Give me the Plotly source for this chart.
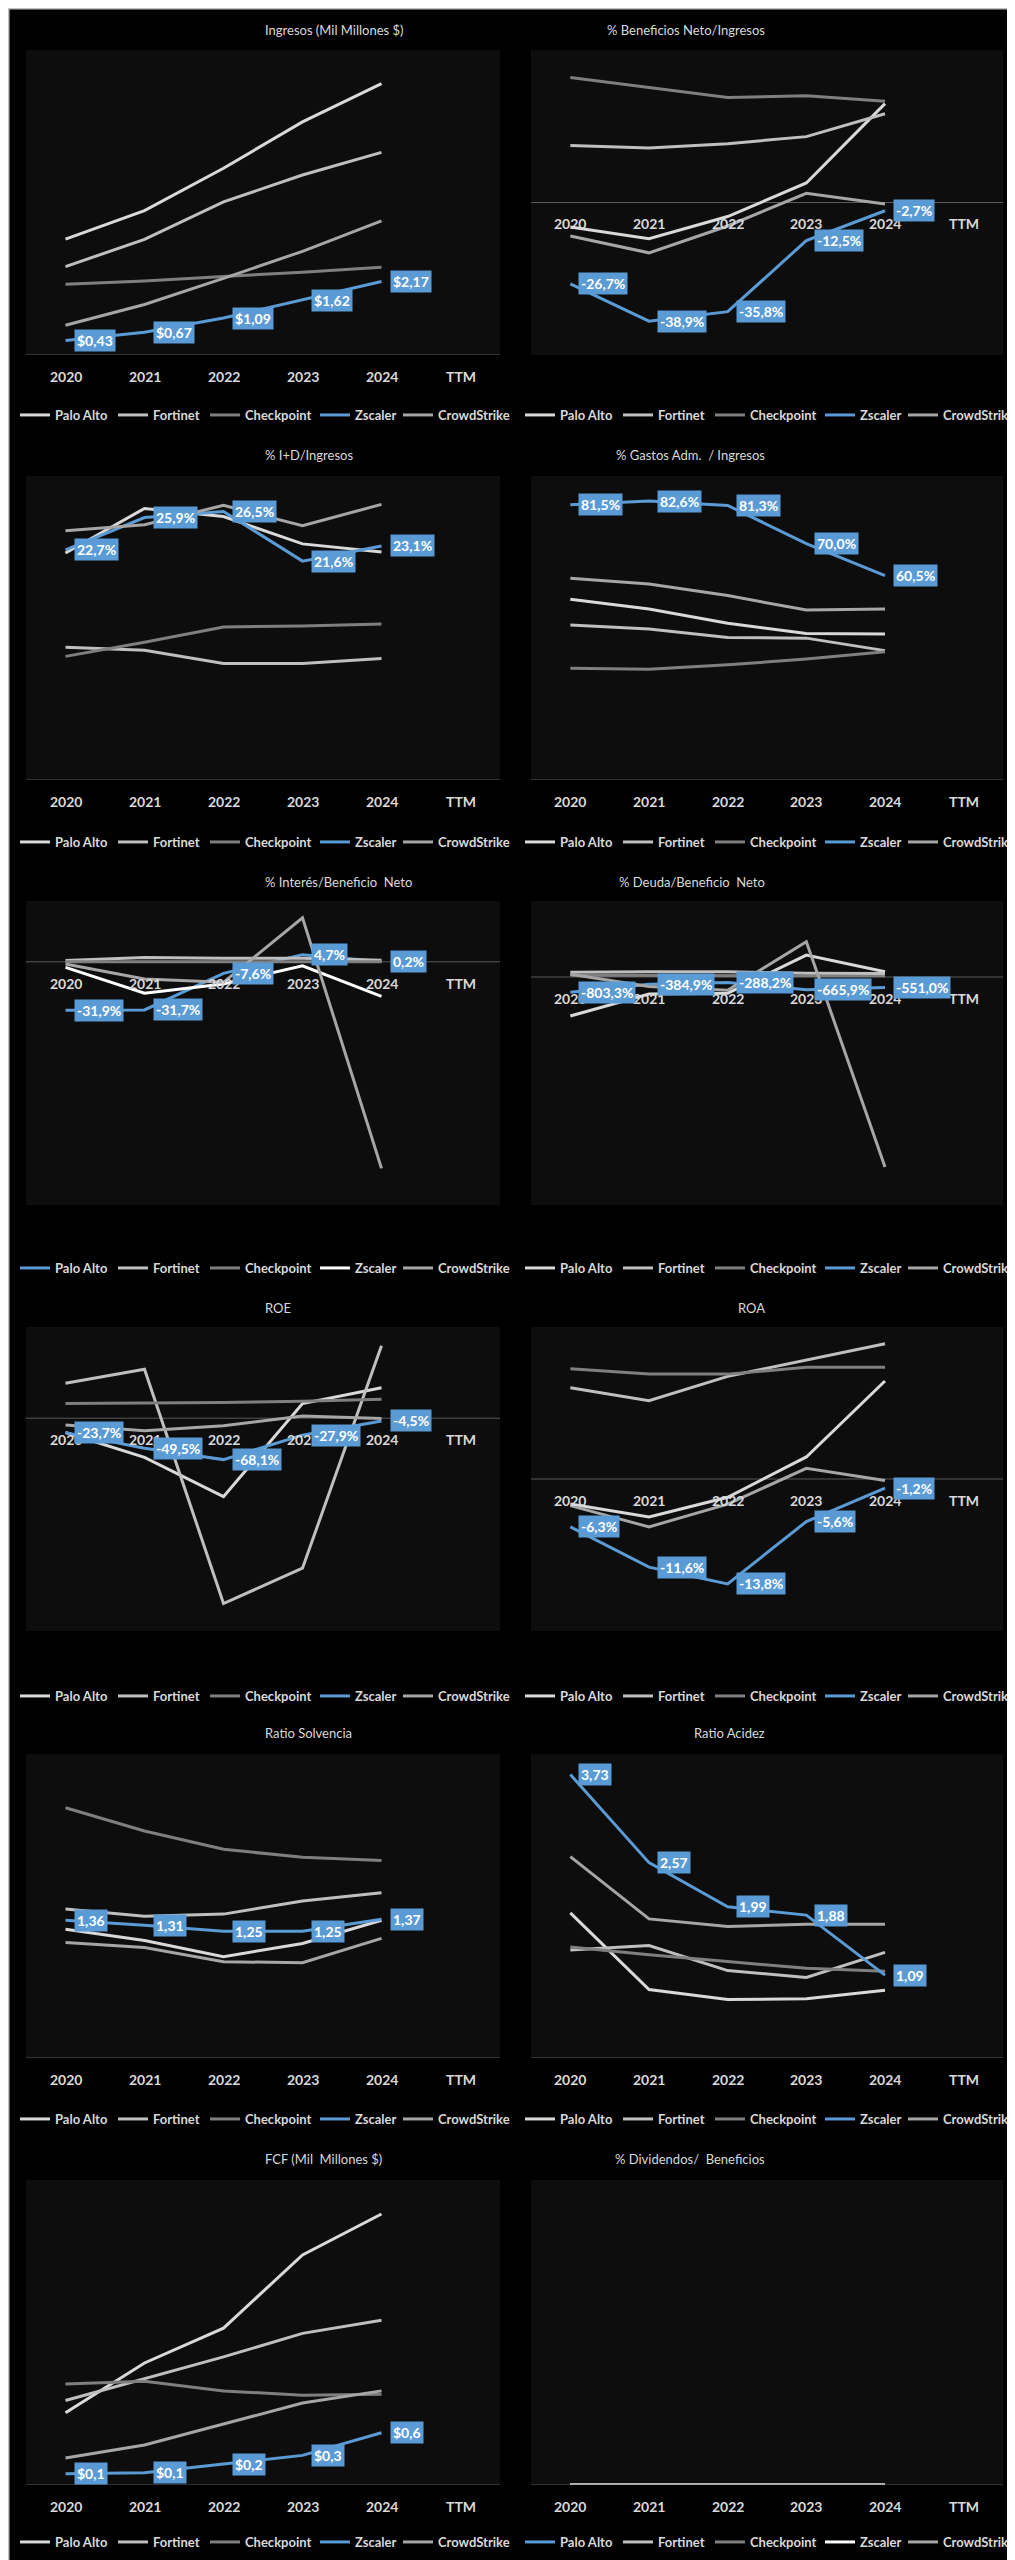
import plotly.graph_objects as go

YEARS = ["2020", "2021", "2022", "2023", "2024", "TTM"]
DATA_YEARS = YEARS[:5]
COMPANIES = ["Palo Alto", "Fortinet", "Checkpoint", "Zscaler", "CrowdStrike"]

# ---------------- data ----------------
ingresos = {
    "Palo Alto": [3.42, 4.26, 5.51, 6.88, 8.01],
    "Fortinet": [2.61, 3.41, 4.52, 5.31, 5.98],
    "Checkpoint": [2.09, 2.18, 2.32, 2.44, 2.59],
    "Zscaler": [0.43, 0.67, 1.09, 1.62, 2.17],
    "CrowdStrike": [0.88, 1.49, 2.26, 3.06, 3.96],
}
beneficio_neto = {
    "Palo Alto": [-8.0, -11.9, -4.6, 6.4, 32.4],
    "Fortinet": [18.7, 17.9, 19.3, 21.6, 29.1],
    "Checkpoint": [41.0, 37.7, 34.4, 35.0, 33.2],
    "Zscaler": [-26.7, -38.9, -35.8, -12.5, -2.7],
    "CrowdStrike": [-11.0, -16.5, -7.7, 3.0, -0.5],
}
id_ingresos = {
    "Palo Alto": [22.4, 26.8, 26.0, 23.3, 22.5],
    "Fortinet": [13.1, 12.8, 11.5, 11.5, 12.0],
    "Checkpoint": [12.2, 13.6, 15.1, 15.2, 15.4],
    "Zscaler": [22.7, 25.9, 26.5, 21.6, 23.1],
    "CrowdStrike": [24.6, 25.2, 27.1, 25.1, 27.2],
}
gastos_adm = {
    "Palo Alto": [53.5, 50.6, 46.4, 43.4, 43.2],
    "Fortinet": [45.9, 44.7, 42.2, 42.0, 38.3],
    "Checkpoint": [33.1, 32.8, 34.1, 35.8, 38.0],
    "Zscaler": [81.5, 82.6, 81.3, 70.0, 60.5],
    "CrowdStrike": [59.7, 58.0, 54.6, 50.3, 50.6],
}
interes_bn = {
    "Palo Alto": [-31.9, -31.7, -7.6, 4.7, 0.2],
    "Fortinet": [0.8, 2.8, 2.4, 2.4, 1.1],
    "Checkpoint": [0.0, 0.0, 0.0, 0.0, 0.0],
    "Zscaler": [-3.7, -20.7, -14.6, -2.6, -22.8],
    "CrowdStrike": [-1.5, -11.3, -13.5, 28.9, -135.9],
}
deuda_bn = {
    "Palo Alto": [-2050, -900, -850, 1150, 280],
    "Fortinet": [250, 280, 270, 200, 180],
    "Checkpoint": [90, 90, 90, 90, 60],
    "Zscaler": [-803.3, -384.9, -288.2, -665.9, -551.0],
    "CrowdStrike": [150, -500, -700, 1860, -10000],
}
roe = {
    "Palo Alto": [-23.5, -64.5, -129.0, 24.0, 50.0],
    "Fortinet": [57.6, 80.6, -304.8, -246.7, 119.0],
    "Checkpoint": [24.0, 24.5, 26.0, 28.0, 31.0],
    "Zscaler": [-23.7, -49.5, -68.1, -27.9, -4.5],
    "CrowdStrike": [-11.0, -20.8, -12.6, 3.8, -0.5],
}
roa = {
    "Palo Alto": [-3.3, -5.0, -2.4, 2.9, 12.9],
    "Fortinet": [12.0, 10.3, 13.5, 15.7, 17.8],
    "Checkpoint": [14.5, 13.8, 13.8, 14.7, 14.7],
    "Zscaler": [-6.3, -11.6, -13.8, -5.6, -1.2],
    "CrowdStrike": [-3.5, -6.3, -3.3, 1.4, -0.2],
}
solvencia = {
    "Palo Alto": [1.27, 1.16, 1.00, 1.13, 1.36],
    "Fortinet": [1.47, 1.40, 1.42, 1.55, 1.63],
    "Checkpoint": [2.47, 2.24, 2.06, 1.98, 1.95],
    "Zscaler": [1.36, 1.31, 1.25, 1.25, 1.37],
    "CrowdStrike": [1.14, 1.09, 0.95, 0.94, 1.18],
}
acidez = {
    "Palo Alto": [1.91, 0.90, 0.77, 0.78, 0.89],
    "Fortinet": [1.42, 1.48, 1.15, 1.06, 1.39],
    "Checkpoint": [1.46, 1.36, 1.27, 1.18, 1.14],
    "Zscaler": [3.73, 2.57, 1.99, 1.88, 1.09],
    "CrowdStrike": [2.65, 1.83, 1.73, 1.76, 1.76],
}
fcf = {
    "Palo Alto": [0.83, 1.40, 1.80, 2.64, 3.11],
    "Fortinet": [0.97, 1.22, 1.47, 1.74, 1.89],
    "Checkpoint": [1.16, 1.19, 1.08, 1.03, 1.04],
    "Zscaler": [0.13, 0.14, 0.24, 0.34, 0.60],
    "CrowdStrike": [0.31, 0.46, 0.70, 0.94, 1.08],
}
dividendos = {
    "Palo Alto": [0, 0, 0, 0, 0],
    "Fortinet": [0, 0, 0, 0, 0],
    "Checkpoint": [0, 0, 0, 0, 0],
    "Zscaler": [0, 0, 0, 0, 0],
    "CrowdStrike": [0, 0, 0, 0, 0],
}

# ---------------- styling ----------------
BLUE = "#5b9bd5"
COLORS = {"Palo Alto": "#d9d9d9", "Fortinet": "#bfbfbf", "Checkpoint": "#7f7f7f",
          "Zscaler": BLUE, "CrowdStrike": "#a6a6a6"}
COLORS_ALT = dict(COLORS, **{"Palo Alto": BLUE, "Zscaler": "#ffffff"})
LEGEND_TEXT_W = {"Palo Alto": 53, "Fortinet": 47, "Checkpoint": 65, "Zscaler": 38, "CrowdStrike": 72}


def fmt_money2(v):
    return "$" + f"{v:.2f}".replace(".", ",")


def fmt_money1(v):
    return "$" + f"{v:.1f}".replace(".", ",")


def fmt_pct(v):
    return f"{v:.1f}%".replace(".", ",")


def fmt_ratio(v):
    return f"{v:.2f}".replace(".", ",")


charts = [
    dict(title="Ingresos (Mil Millones $)", data=ingresos, yr=[0, 9], lab="Zscaler", fmt=fmt_money2, col=COLORS),
    dict(title="% Beneficios Neto/Ingresos", data=beneficio_neto, yr=[-50, 50], lab="Zscaler", fmt=fmt_pct, col=COLORS),
    dict(title="% I+D/Ingresos", data=id_ingresos, yr=[0, 30], lab="Zscaler", fmt=fmt_pct, col=COLORS),
    dict(title="% Gastos Adm.  / Ingresos", data=gastos_adm, yr=[0, 90], lab="Zscaler", fmt=fmt_pct, col=COLORS),
    dict(title="% Interés/Beneficio  Neto", data=interes_bn, yr=[-160, 40], lab="Palo Alto", fmt=fmt_pct, col=COLORS_ALT),
    dict(title="% Deuda/Beneficio  Neto", data=deuda_bn, yr=[-12000, 4000], lab="Zscaler", fmt=fmt_pct, col=COLORS),
    dict(title="ROE", data=roe, yr=[-350, 150], lab="Zscaler", fmt=fmt_pct, col=COLORS),
    dict(title="ROA", data=roa, yr=[-20, 20], lab="Zscaler", fmt=fmt_pct, col=COLORS),
    dict(title="Ratio Solvencia", data=solvencia, yr=[0, 3], lab="Zscaler", fmt=fmt_ratio, col=COLORS),
    dict(title="Ratio Acidez", data=acidez, yr=[0, 4], lab="Zscaler", fmt=fmt_ratio, col=COLORS),
    dict(title="FCF (Mil  Millones $)", data=fcf, yr=[0, 3.5], lab="Zscaler", fmt=fmt_money1, col=COLORS),
    dict(title="% Dividendos/  Beneficios", data=dividendos, yr=[0, 1], lab=None, fmt=fmt_pct, col=COLORS_ALT),
]

W, H = 1015, 2560
COL_X = [(18, 492), (523, 995)]
ROW_Y = [(42, 347), (468, 772), (893, 1197), (1319, 1623), (1746, 2050), (2172, 2477)]
TITLE_Y = [22, 447, 874, 1300, 1725, 2151]
LEGEND_Y = [407, 834, 1260, 1688, 2111, 2534]
LEGEND_X = [7, 512]
TXT = "#d9d9d9"
FONT = "Lato"

fig = go.Figure()
layout = dict(
    width=W, height=H, margin=dict(l=0, r=0, t=0, b=0),
    paper_bgcolor="#000000", plot_bgcolor="#0d0d0d",
    font=dict(family=FONT, color=TXT),
    showlegend=True,
)
annotations = []
shapes = []

for i, ch in enumerate(charts):
    n = i + 1
    r, c = divmod(i, 2)
    xa = "x" if n == 1 else f"x{n}"
    ya = "y" if n == 1 else f"y{n}"
    lg = "legend" if n == 1 else f"legend{n}"
    x0, x1 = COL_X[c]
    y0, y1 = ROW_Y[r]
    layout["xaxis" if n == 1 else f"xaxis{n}"] = dict(
        domain=[x0 / W, x1 / W], anchor=ya, type="category",
        categoryorder="array", categoryarray=YEARS, range=[-0.5, 5.5],
        showticklabels=False, showgrid=False, zeroline=False, showline=False, ticks="",
    )
    layout["yaxis" if n == 1 else f"yaxis{n}"] = dict(
        domain=[1 - y1 / H, 1 - y0 / H], anchor=xa, range=ch["yr"],
        showticklabels=False, showgrid=False, zeroline=False, showline=False, ticks="",
    )
    layout[lg] = dict(
        orientation="h", x=LEGEND_X[c] / W, xanchor="left",
        y=1 - LEGEND_Y[r] / H, yanchor="middle",
        bgcolor="rgba(0,0,0,0)", font=dict(size=13, color=TXT, family=FONT, weight="bold"),
        itemwidth=30, tracegroupgap=0, entrywidthmode="pixels",
    )
    for comp in COMPANIES:
        fig.add_trace(go.Scatter(
            x=DATA_YEARS, y=ch["data"][comp], mode="lines", name=comp,
            line=dict(color=ch["col"][comp], width=3), xaxis=xa, yaxis=ya,
            legend=lg, legendwidth=LEGEND_TEXT_W[comp], hoverinfo="skip",
        ))
    # horizontal (category) axis line at zero
    shapes.append(dict(type="line", xref=f"{xa} domain", x0=0, x1=1, yref=ya, y0=0, y1=0,
                       line=dict(color="#595959", width=1), layer="below"))
    # category labels next to the axis (category index positions)
    for k, yr in enumerate(YEARS):
        annotations.append(dict(x=k, y=0, xref=xa, yref=ya, text=yr, showarrow=False,
                                yanchor="top", yshift=-11,
                                font=dict(size=14, color=TXT, family=FONT, weight="bold")))
    # title
    annotations.append(dict(x=(x0 + x1) / 2 / W, y=1 - TITLE_Y[r] / H, xref="paper", yref="paper",
                            text=ch["title"], showarrow=False, yanchor="middle",
                            font=dict(size=13, color=TXT, family=FONT)))
    # data labels
    if ch["lab"]:
        for k, v in enumerate(ch["data"][ch["lab"]]):
            annotations.append(dict(x=k, y=v, xref=xa, yref=ya, text=ch["fmt"](v), showarrow=False,
                                    xanchor="left", yanchor="middle", xshift=8,
                                    bgcolor=BLUE, borderpad=2,
                                    font=dict(size=14, color="#ffffff", family=FONT, weight="bold")))

# thin light frame around the whole picture
shapes.append(dict(type="rect", xref="paper", yref="paper", x0=0, x1=1, y0=0, y1=1,
                   line=dict(color="#bfbfbf", width=3), layer="above"))

layout["annotations"] = annotations
layout["shapes"] = shapes
fig.update_layout(**layout)
fig.write_html("out.html")
